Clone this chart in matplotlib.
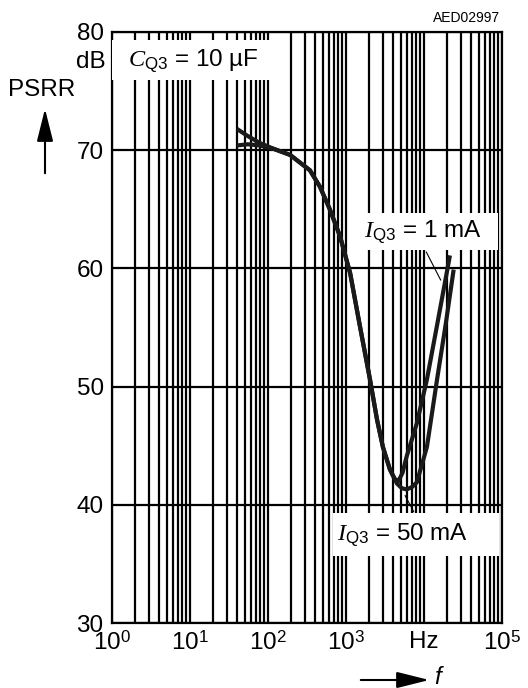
import numpy as np
import matplotlib.pyplot as plt
from matplotlib.patches import Rectangle, FancyArrowPatch
from matplotlib.ticker import LogLocator, NullFormatter

plt.rcParams['font.family'] = ['Liberation Sans', 'DejaVu Sans']
plt.rcParams['mathtext.fontset'] = 'custom'
plt.rcParams['mathtext.rm'] = 'Liberation Sans'
plt.rcParams['mathtext.it'] = 'Liberation Serif:italic'

# PSRR vs frequency
freq_1mA = [40, 55, 79, 120, 192, 345, 464, 620, 840, 1130, 1500, 2030, 2500, 2970,
            3650, 4200, 4700, 5300, 6000, 8100, 10900, 15000, 21500]
psrr_1mA = [71.8, 71.2, 70.6, 70.1, 69.6, 68.3, 66.9, 65.0, 62.7, 59.6, 55.2, 50.6, 47.2, 44.9,
            43.0, 42.2, 42.0, 42.7, 44.1, 46.9, 50.6, 55.5, 61.1]
freq_50mA = [40, 55, 79, 120, 192, 345, 464, 620, 840, 1130, 1500, 2030, 2500, 2970,
             3650, 4500, 5200, 6000, 7000, 8100, 10900, 14700, 19000, 24000]
psrr_50mA = [70.4, 70.5, 70.4, 70.1, 69.6, 68.3, 66.9, 65.0, 62.7, 59.6, 55.2, 50.6, 47.2, 44.9,
             43.0, 41.8, 41.4, 41.3, 41.5, 41.9, 44.9, 50.6, 55.3, 59.9]

x_ticks = [1, 10, 100, 1000, 10000, 100000]
x_labels = ['$10^0$', '$10^1$', '$10^2$', '$10^3$', 'Hz', '$10^5$']
y_ticks = [30, 40, 50, 60, 70, 80]

FS = 17.5
W, H = 528, 688
fig = plt.figure(figsize=(W / 100, H / 100), dpi=100)
ax = fig.add_axes([112 / W, 1 - 623 / H, 390 / W, 591 / H])

ax.set_xscale('log')
ax.set_xlim(1, 1e5)
ax.set_ylim(30, 80)
ax.set_xticks(x_ticks)
ax.set_xticklabels(x_labels)
ax.set_yticks(y_ticks)
ax.xaxis.set_minor_locator(LogLocator(base=10, subs=np.arange(2, 10), numticks=100))
ax.xaxis.set_minor_formatter(NullFormatter())
ax.tick_params(which='both', length=0, labelsize=FS)
ax.tick_params(axis='x', pad=6)
ax.tick_params(axis='y', pad=6)
ax.grid(which='both', axis='x', color='black', lw=1.6)
ax.grid(which='major', axis='y', color='black', lw=1.6)
for s in ax.spines.values():
    s.set_linewidth(1.6)

# white label boxes covering the grid
for (x0, y0, x1, y1) in [(0, 0.9188, 0.451, 0.9865),
                         (0.636, 0.6311, 0.990, 0.6937),
                         (0.567, 0.1134, 0.992, 0.1861)]:
    ax.add_patch(Rectangle((x0, y0), x1 - x0, y1 - y0, transform=ax.transAxes,
                           facecolor='white', edgecolor='none', zorder=3))

ax.text(0.04, 0.952, r'$C_{\mathrm{Q3}}$ = 10 µF', transform=ax.transAxes,
        fontsize=FS, va='center', ha='left', zorder=5)
ax.text(0.645, 0.662, r'$I_{\mathrm{Q3}}$ = 1 mA', transform=ax.transAxes,
        fontsize=FS, va='center', ha='left', zorder=5)
ax.text(0.578, 0.150, r'$I_{\mathrm{Q3}}$ = 50 mA', transform=ax.transAxes,
        fontsize=FS, va='center', ha='left', zorder=5)

ax.plot(freq_1mA, psrr_1mA, color='#1a1a1a', lw=3, zorder=4, solid_capstyle='butt')
ax.plot(freq_50mA, psrr_50mA, color='#1a1a1a', lw=3, zorder=4, solid_capstyle='butt')

# leader lines
ax.annotate('', xy=(17000, 58.8), xytext=(10300, 61.6),
            arrowprops=dict(arrowstyle='-', lw=0.8, color='black'), zorder=5)
ax.annotate('', xy=(5500, 41.0), xytext=(7680, 39.2),
            arrowprops=dict(arrowstyle='-', lw=0.8, color='black'), zorder=5)

# axis captions
fig.text(106 / W, 1 - 62 / H, 'dB', fontsize=FS, ha='right', va='center')
fig.text(8 / W, 1 - 90 / H, 'PSRR', fontsize=FS, ha='left', va='center')
fig.add_artist(FancyArrowPatch(
    (45 / W, 1 - 176 / H), (45 / W, 1 - 106 / H), transform=fig.transFigure,
    arrowstyle='-|>,head_length=1.0,head_width=0.25', mutation_scale=20,
    color='black', lw=1.5))
fig.add_artist(FancyArrowPatch(
    (358 / W, 1 - 680 / H), (432 / W, 1 - 680 / H), transform=fig.transFigure,
    arrowstyle='-|>,head_length=1.0,head_width=0.25', mutation_scale=20,
    color='black', lw=1.5))
fig.text(434 / W, 1 - 677 / H, 'f', fontsize=FS, style='italic', ha='left', va='center')
fig.text(500 / W, 1 - 18 / H, 'AED02997', fontsize=10, ha='right', va='center')

fig.savefig('out.png', dpi=100)
